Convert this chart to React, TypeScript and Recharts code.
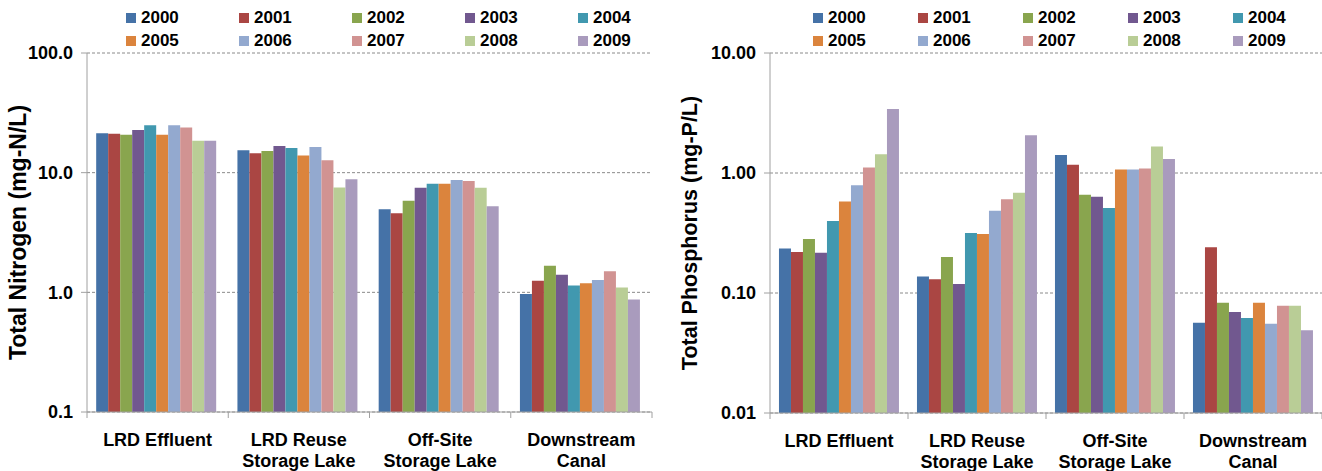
import { Bar, BarChart, CartesianGrid, XAxis, YAxis } from "recharts";

const years = ["2000", "2001", "2002", "2003", "2004", "2005", "2006", "2007", "2008", "2009"];
const colors = ["#4572A7", "#AA4643", "#89A54E", "#71588F", "#4198AF", "#DB843D", "#93A9CF", "#D19392", "#B9CD96", "#A99BBD"];
const sites = ["LRD Effluent", "LRD Reuse\nStorage Lake", "Off-Site\nStorage Lake", "Downstream\nCanal"];

// values by year (2000..2009), one array per site
const nitrogenEffluent = [21.4, 21.1, 20.7, 22.7, 24.9, 20.7, 24.9, 23.9, 18.5, 18.5];
const nitrogenReuse = [15.4, 14.5, 15.2, 16.7, 16.1, 13.9, 16.4, 12.7, 7.5, 8.8];
const nitrogenOffSite = [4.94, 4.59, 5.82, 7.48, 8.08, 8.08, 8.67, 8.5, 7.48, 5.23];
const nitrogenCanal = [0.97, 1.25, 1.67, 1.4, 1.14, 1.19, 1.27, 1.5, 1.1, 0.87];

const phosphorusEffluent = [0.235, 0.22, 0.282, 0.216, 0.398, 0.58, 0.79, 1.11, 1.43, 3.41];
const phosphorusReuse = [0.137, 0.13, 0.2, 0.119, 0.316, 0.31, 0.485, 0.603, 0.685, 2.06];
const phosphorusOffSite = [1.41, 1.17, 0.66, 0.635, 0.511, 1.07, 1.07, 1.09, 1.66, 1.31];
const phosphorusCanal = [0.0565, 0.24, 0.083, 0.0695, 0.062, 0.083, 0.0555, 0.0784, 0.0784, 0.049];

const nitrogenTicks = [0.1, 1, 10, 100];
const phosphorusTicks = [0.01, 0.1, 1, 10];

const buildRows = (bySite: number[][]) =>
  sites.map((site, i) => {
    const row: Record<string, number | string> = { site };
    years.forEach((y, j) => (row["y" + y] = bySite[i][j]));
    return row;
  });

const nitrogenRows = buildRows([nitrogenEffluent, nitrogenReuse, nitrogenOffSite, nitrogenCanal]);
const phosphorusRows = buildRows([phosphorusEffluent, phosphorusReuse, phosphorusOffSite, phosphorusCanal]);

const FONT = '"Liberation Sans", Arial, sans-serif';
const AXIS = "#a0a0a0";

function SiteTick(props: any) {
  const { x, y, payload, index } = props;
  const half = payload.offset ?? 0;
  const lines = String(payload.value).split("\n");
  return (
    <g>
      <line x1={x - half} x2={x - half} y1={y} y2={y + 6} stroke={AXIS} />
      {index === sites.length - 1 && (
        <line x1={x + half} x2={x + half} y1={y} y2={y + 6} stroke={AXIS} />
      )}
      <text textAnchor="middle" fontFamily={FONT} fontWeight="bold" fontSize={18} fill="#000">
        {lines.map((l, i) => (
          <tspan key={i} x={x} y={y + 34 + i * 21}>
            {l}
          </tspan>
        ))}
      </text>
    </g>
  );
}

function Legend({ left, step }: { left: number; step: number }) {
  return (
    <div
      style={{
        position: "absolute",
        left,
        top: 6,
        width: step * 5,
        display: "flex",
        flexWrap: "wrap",
        fontFamily: FONT,
        fontWeight: "bold",
        fontSize: 17,
      }}
    >
      {years.map((y, i) => (
        <div key={y} style={{ width: step, height: 23.5, display: "flex", alignItems: "center" }}>
          <span style={{ width: 10, height: 10, background: colors[i], marginRight: 5, display: "inline-block" }} />
          <span>{y}</span>
        </div>
      ))}
    </div>
  );
}

function LogChart({
  rows,
  ticks,
  digits,
  title,
  titleSize,
  width,
  axisWidth,
  right,
  xHeight,
  titleX,
}: {
  rows: any[];
  ticks: number[];
  digits: number;
  title: string;
  titleSize: number;
  width: number;
  axisWidth: number;
  right: number;
  xHeight: number;
  titleX: number;
}) {
  return (
    <BarChart
      width={width}
      height={471}
      data={rows}
      margin={{ top: 53, right, bottom: 0, left: 0 }}
      barCategoryGap="6.5%"
      barGap={0}
    >
      <CartesianGrid vertical={false} stroke="#8a8a8a" strokeDasharray="3 2" />
      <XAxis
        dataKey="site"
        interval={0}
        height={xHeight}
        tickSize={0}
        tickMargin={0}
        tickLine={false}
        axisLine={{ stroke: AXIS }}
        tick={<SiteTick />}
      />
      <YAxis
        type="number"
        scale="log"
        domain={[ticks[0], ticks[ticks.length - 1]]}
        ticks={ticks}
        allowDataOverflow
        width={axisWidth}
        tickSize={6}
        tickMargin={8}
        axisLine={{ stroke: AXIS }}
        tickLine={{ stroke: AXIS }}
        tickFormatter={(v: number) => v.toFixed(digits)}
        tick={{ fill: "#000", fontSize: 18, fontWeight: "bold", fontFamily: FONT }}
        label={{
          content: ({ viewBox }: any) => {
            const cx = viewBox.x + titleX;
            const cy = viewBox.y + viewBox.height / 2;
            return (
              <text
                x={cx}
                y={cy}
                transform={`rotate(-90 ${cx} ${cy})`}
                textAnchor="middle"
                dominantBaseline="central"
                fontFamily={FONT}
                fontWeight="bold"
                fontSize={titleSize}
                fill="#000"
              >
                {title}
              </text>
            );
          },
        }}
      />
      {years.map((y, i) => (
        <Bar key={y} dataKey={"y" + y} fill={colors[i]} isAnimationActive={false} />
      ))}
    </BarChart>
  );
}

export default function App() {
  return (
    <div style={{ position: "absolute", left: 0, top: 0, width: 1322, height: 471, background: "#fff" }}>
      <div style={{ position: "absolute", left: 0, top: 0 }}>
        <LogChart
          rows={nitrogenRows}
          ticks={nitrogenTicks}
          digits={1}
          title="Total Nitrogen (mg-N/L)"
          titleSize={23}
          width={660}
          axisWidth={87}
          right={8}
          xHeight={59}
          titleX={18}
        />
      </div>
      <div style={{ position: "absolute", left: 660, top: 0 }}>
        <LogChart
          rows={phosphorusRows}
          ticks={phosphorusTicks}
          digits={2}
          title="Total Phosphorus (mg-P/L)"
          titleSize={21.5}
          width={662}
          axisWidth={110}
          right={0}
          xHeight={58}
          titleX={30}
        />
      </div>
      <Legend left={126} step={113} />
      <Legend left={813} step={105} />
    </div>
  );
}
